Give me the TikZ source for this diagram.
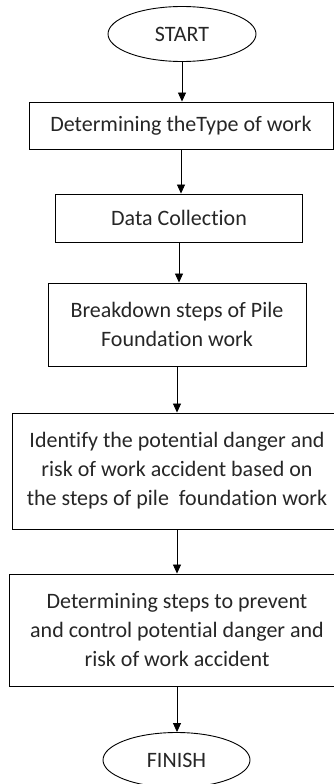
\documentclass[tikz,border=0pt]{standalone}
\usepackage{fontspec}
\setmainfont{Carlito}[Ligatures=NoCommon]
\usetikzlibrary{arrows.meta,shapes.geometric}
\begin{document}
\begin{tikzpicture}[x=1pt,y=-1pt,
    stepbox/.style={draw,line width=0.9pt,align=center,inner sep=0pt,text=black!85,font=\fontsize{22}{29}\selectfont},
    terminal/.style={draw,ellipse,line width=0.9pt,inner sep=0pt,minimum width=148pt,minimum height=55pt,text=black!85,font=\fontsize{22}{24}\selectfont},
    flow/.style={line width=0.8pt,-{Triangle[length=9pt,width=8pt]}}]
    \useasboundingbox (0,0) rectangle (334,784);
    \node[terminal] (start) at (182,34) {START};
    \node[stepbox,minimum width=304pt,minimum height=47pt] (type) at (181,125.5) {Determining theType of work};
    \node[stepbox,minimum width=247pt,minimum height=48pt] (data) at (179,218) {Data Collection};
    \node[stepbox,minimum width=258pt,minimum height=83pt] (breakdown) at (177,324.5) {Breakdown steps of Pile\\Foundation work};
    \node[stepbox,minimum width=330pt,minimum height=116pt] (identify) at (177,471) {Identify the potential danger and\\risk of work accident based on\\the steps of pile\ \ foundation work};
    \node[stepbox,minimum width=336pt,minimum height=112pt] (prevent) at (177,630) {Determining steps to prevent\\and control potential danger and\\risk of work accident};
    \node[terminal,minimum width=147pt] (finish) at (176.5,760) {FINISH};
    \draw[flow] (start.south) -- (start.south |- type.north);
    \draw[flow] (type.south) -- (type.south |- data.north);
    \draw[flow] (data.south) -- (data.south |- breakdown.north);
    \draw[flow] (breakdown.south) -- (breakdown.south |- identify.north);
    \draw[flow] (identify.south) -- (identify.south |- prevent.north);
    \draw[flow] (prevent.south) -- (prevent.south |- finish.north);
\end{tikzpicture}
\end{document}
